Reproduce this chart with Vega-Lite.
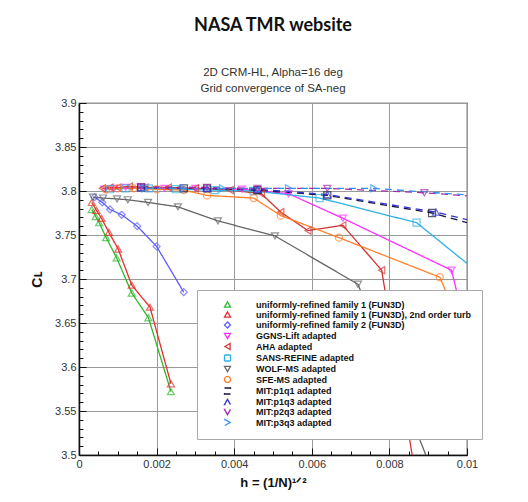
{
  "$schema": "https://vega.github.io/schema/vega-lite/v6.json",
  "width": 388,
  "height": 352,
  "autosize": {"type": "none"},
  "padding": {"left": 79, "top": 103, "right": 61, "bottom": 47},
  "background": "white",
  "title": {
    "text": "NASA TMR website",
    "subtitle": ["2D CRM-HL, Alpha=16 deg", "Grid convergence of SA-neg"],
    "font": "Lato",
    "fontSize": 18,
    "fontWeight": "bold",
    "color": "#111",
    "subtitleFont": "Liberation Sans",
    "subtitleFontSize": 11.5,
    "subtitleColor": "#333",
    "subtitleLineHeight": 16,
    "subtitlePadding": 32,
    "offset": 3,
    "anchor": "middle"
  },
  "config": {
    "view": {"stroke": "#222", "strokeWidth": 1.2},
    "axis": {
      "labelFont": "Liberation Sans",
      "labelFontSize": 11,
      "labelColor": "#333",
      "titleFont": "Liberation Sans",
      "titleFontWeight": "bold",
      "titleColor": "#111",
      "domainColor": "#111",
      "domainWidth": 1.5,
      "tickColor": "#111",
      "gridColor": "#999",
      "gridWidth": 1,
      "labelOverlap": false
    }
  },
  "data": {"values": [
    {"s": "uniformly-refined family 1 (FUN3D)", "x": 0.00033, "y": 3.779},
    {"s": "uniformly-refined family 1 (FUN3D)", "x": 0.00043, "y": 3.771},
    {"s": "uniformly-refined family 1 (FUN3D)", "x": 0.00052, "y": 3.764},
    {"s": "uniformly-refined family 1 (FUN3D)", "x": 0.0007, "y": 3.747},
    {"s": "uniformly-refined family 1 (FUN3D)", "x": 0.00097, "y": 3.724},
    {"s": "uniformly-refined family 1 (FUN3D)", "x": 0.00136, "y": 3.684},
    {"s": "uniformly-refined family 1 (FUN3D)", "x": 0.00179, "y": 3.656},
    {"s": "uniformly-refined family 1 (FUN3D)", "x": 0.00237, "y": 3.572},
    {"s": "uniformly-refined family 1 (FUN3D), 2nd order turb", "x": 0.00033, "y": 3.787},
    {"s": "uniformly-refined family 1 (FUN3D), 2nd order turb", "x": 0.00045, "y": 3.778},
    {"s": "uniformly-refined family 1 (FUN3D), 2nd order turb", "x": 0.00058, "y": 3.769},
    {"s": "uniformly-refined family 1 (FUN3D), 2nd order turb", "x": 0.00077, "y": 3.753},
    {"s": "uniformly-refined family 1 (FUN3D), 2nd order turb", "x": 0.00101, "y": 3.734},
    {"s": "uniformly-refined family 1 (FUN3D), 2nd order turb", "x": 0.00136, "y": 3.693},
    {"s": "uniformly-refined family 1 (FUN3D), 2nd order turb", "x": 0.00183, "y": 3.668},
    {"s": "uniformly-refined family 1 (FUN3D), 2nd order turb", "x": 0.00237, "y": 3.581},
    {"s": "uniformly-refined family 2 (FUN3D)", "x": 0.0004, "y": 3.793},
    {"s": "uniformly-refined family 2 (FUN3D)", "x": 0.0006, "y": 3.787},
    {"s": "uniformly-refined family 2 (FUN3D)", "x": 0.0008, "y": 3.779},
    {"s": "uniformly-refined family 2 (FUN3D)", "x": 0.0011, "y": 3.773},
    {"s": "uniformly-refined family 2 (FUN3D)", "x": 0.0015, "y": 3.76},
    {"s": "uniformly-refined family 2 (FUN3D)", "x": 0.002, "y": 3.737},
    {"s": "uniformly-refined family 2 (FUN3D)", "x": 0.0027, "y": 3.685},
    {"s": "GGNS-Lift adapted", "x": 0.00065, "y": 3.802},
    {"s": "GGNS-Lift adapted", "x": 0.0009, "y": 3.803},
    {"s": "GGNS-Lift adapted", "x": 0.0012, "y": 3.804},
    {"s": "GGNS-Lift adapted", "x": 0.0016, "y": 3.804},
    {"s": "GGNS-Lift adapted", "x": 0.0022, "y": 3.803},
    {"s": "GGNS-Lift adapted", "x": 0.003, "y": 3.803},
    {"s": "GGNS-Lift adapted", "x": 0.0042, "y": 3.802},
    {"s": "GGNS-Lift adapted", "x": 0.0054, "y": 3.797},
    {"s": "GGNS-Lift adapted", "x": 0.0068, "y": 3.769},
    {"s": "GGNS-Lift adapted", "x": 0.0096, "y": 3.71},
    {"s": "GGNS-Lift adapted", "x": 0.0101, "y": 3.62},
    {"s": "AHA adapted", "x": 0.0006, "y": 3.803},
    {"s": "AHA adapted", "x": 0.0008, "y": 3.804},
    {"s": "AHA adapted", "x": 0.001, "y": 3.804},
    {"s": "AHA adapted", "x": 0.0013, "y": 3.805},
    {"s": "AHA adapted", "x": 0.0017, "y": 3.804},
    {"s": "AHA adapted", "x": 0.0023, "y": 3.804},
    {"s": "AHA adapted", "x": 0.003, "y": 3.803},
    {"s": "AHA adapted", "x": 0.0039, "y": 3.801},
    {"s": "AHA adapted", "x": 0.0047, "y": 3.797},
    {"s": "AHA adapted", "x": 0.0052, "y": 3.776},
    {"s": "AHA adapted", "x": 0.0059, "y": 3.755},
    {"s": "AHA adapted", "x": 0.0068, "y": 3.761},
    {"s": "AHA adapted", "x": 0.0078, "y": 3.71},
    {"s": "AHA adapted", "x": 0.0087, "y": 3.47},
    {"s": "SANS-REFINE adapted", "x": 0.0008, "y": 3.802},
    {"s": "SANS-REFINE adapted", "x": 0.0012, "y": 3.803},
    {"s": "SANS-REFINE adapted", "x": 0.0018, "y": 3.803},
    {"s": "SANS-REFINE adapted", "x": 0.0025, "y": 3.802},
    {"s": "SANS-REFINE adapted", "x": 0.0035, "y": 3.801},
    {"s": "SANS-REFINE adapted", "x": 0.0045, "y": 3.8},
    {"s": "SANS-REFINE adapted", "x": 0.0062, "y": 3.792},
    {"s": "SANS-REFINE adapted", "x": 0.0087, "y": 3.764},
    {"s": "SANS-REFINE adapted", "x": 0.0105, "y": 3.7},
    {"s": "WOLF-MS adapted", "x": 0.00036, "y": 3.793},
    {"s": "WOLF-MS adapted", "x": 0.00062, "y": 3.792},
    {"s": "WOLF-MS adapted", "x": 0.00098, "y": 3.791},
    {"s": "WOLF-MS adapted", "x": 0.00126, "y": 3.79},
    {"s": "WOLF-MS adapted", "x": 0.00178, "y": 3.787},
    {"s": "WOLF-MS adapted", "x": 0.00255, "y": 3.782},
    {"s": "WOLF-MS adapted", "x": 0.00358, "y": 3.766},
    {"s": "WOLF-MS adapted", "x": 0.00505, "y": 3.749},
    {"s": "WOLF-MS adapted", "x": 0.00719, "y": 3.694},
    {"s": "WOLF-MS adapted", "x": 0.0093, "y": 3.46},
    {"s": "SFE-MS adapted", "x": 0.0007, "y": 3.802},
    {"s": "SFE-MS adapted", "x": 0.001, "y": 3.803},
    {"s": "SFE-MS adapted", "x": 0.0014, "y": 3.803},
    {"s": "SFE-MS adapted", "x": 0.002, "y": 3.802},
    {"s": "SFE-MS adapted", "x": 0.0027, "y": 3.801},
    {"s": "SFE-MS adapted", "x": 0.0033, "y": 3.795},
    {"s": "SFE-MS adapted", "x": 0.0045, "y": 3.792},
    {"s": "SFE-MS adapted", "x": 0.0052, "y": 3.772},
    {"s": "SFE-MS adapted", "x": 0.0067, "y": 3.747},
    {"s": "SFE-MS adapted", "x": 0.0093, "y": 3.702},
    {"s": "SFE-MS adapted", "x": 0.0099, "y": 3.64},
    {"s": "MIT:p1q1 adapted", "x": 0.0016, "y": 3.804},
    {"s": "MIT:p1q1 adapted", "x": 0.0027, "y": 3.803},
    {"s": "MIT:p1q1 adapted", "x": 0.0033, "y": 3.803},
    {"s": "MIT:p1q1 adapted", "x": 0.0046, "y": 3.801},
    {"s": "MIT:p1q1 adapted", "x": 0.0064, "y": 3.795},
    {"s": "MIT:p1q1 adapted", "x": 0.0091, "y": 3.775},
    {"s": "MIT:p1q1 adapted", "x": 0.0105, "y": 3.758},
    {"s": "MIT:p1q3 adapted", "x": 0.0016, "y": 3.804},
    {"s": "MIT:p1q3 adapted", "x": 0.0033, "y": 3.803},
    {"s": "MIT:p1q3 adapted", "x": 0.0046, "y": 3.802},
    {"s": "MIT:p1q3 adapted", "x": 0.0064, "y": 3.796},
    {"s": "MIT:p1q3 adapted", "x": 0.0092, "y": 3.776},
    {"s": "MIT:p1q3 adapted", "x": 0.0105, "y": 3.762},
    {"s": "MIT:p2q3 adapted", "x": 0.0016, "y": 3.805},
    {"s": "MIT:p2q3 adapted", "x": 0.0033, "y": 3.804},
    {"s": "MIT:p2q3 adapted", "x": 0.0046, "y": 3.803},
    {"s": "MIT:p2q3 adapted", "x": 0.0064, "y": 3.803},
    {"s": "MIT:p2q3 adapted", "x": 0.0089, "y": 3.798},
    {"s": "MIT:p2q3 adapted", "x": 0.0105, "y": 3.793},
    {"s": "MIT:p3q3 adapted", "x": 0.0017, "y": 3.803},
    {"s": "MIT:p3q3 adapted", "x": 0.0027, "y": 3.803},
    {"s": "MIT:p3q3 adapted", "x": 0.0037, "y": 3.803},
    {"s": "MIT:p3q3 adapted", "x": 0.0054, "y": 3.803},
    {"s": "MIT:p3q3 adapted", "x": 0.0076, "y": 3.803},
    {"s": "MIT:p3q3 adapted", "x": 0.0105, "y": 3.794}
  ]},
  "encoding": {
    "x": {
      "field": "x", "type": "quantitative",
      "scale": {"domain": [0, 0.01], "nice": false, "zero": false},
      "axis": {
        "title": "h = (1/N)¹ᐟ²",
        "titleFontSize": 13,
        "titlePadding": 4,
        "values": [0, 0.0005, 0.001, 0.0015, 0.002, 0.0025, 0.003, 0.0035, 0.004, 0.0045, 0.005, 0.0055, 0.006, 0.0065, 0.007, 0.0075, 0.008, 0.0085, 0.009, 0.0095, 0.01],
        "labelExpr": "abs(datum.value*500 - round(datum.value*500)) < 0.001 ? format(datum.value, '~g') : ''",
        "tickSize": {"condition": {"test": "abs(datum.value*500 - round(datum.value*500)) < 0.001", "value": -7}, "value": -4},
        "gridOpacity": {"condition": {"test": "abs(datum.value*500 - round(datum.value*500)) < 0.001", "value": 1}, "value": 0},
        "labelPadding": 10,
        "labelFlush": false
      }
    },
    "y": {
      "field": "y", "type": "quantitative",
      "scale": {"domain": [3.5, 3.9], "nice": false, "zero": false},
      "axis": {
        "title": "Cʟ",
        "titleFontSize": 14,
        "titlePadding": 10,
        "values": [3.5, 3.51, 3.52, 3.53, 3.54, 3.55, 3.56, 3.57, 3.58, 3.59, 3.6, 3.61, 3.62, 3.63, 3.64, 3.65, 3.66, 3.67, 3.68, 3.69, 3.7, 3.71, 3.72, 3.73, 3.74, 3.75, 3.76, 3.77, 3.78, 3.79, 3.8, 3.81, 3.82, 3.83, 3.84, 3.85, 3.86, 3.87, 3.88, 3.89, 3.9],
        "labelExpr": "abs(datum.value*20 - round(datum.value*20)) < 0.001 ? format(datum.value, '~g') : ''",
        "tickSize": {"condition": {"test": "abs(datum.value*20 - round(datum.value*20)) < 0.001", "value": -7}, "value": -4},
        "gridOpacity": {"condition": {"test": "abs(datum.value*20 - round(datum.value*20)) < 0.001", "value": 1}, "value": 0},
        "labelPadding": 10,
        "labelFlush": false
      }
    },
    "color": {
      "field": "s", "type": "nominal", "title": null,
      "scale": {
        "domain": ["uniformly-refined family 1 (FUN3D)", "uniformly-refined family 1 (FUN3D), 2nd order turb", "uniformly-refined family 2 (FUN3D)", "GGNS-Lift adapted", "AHA adapted", "SANS-REFINE adapted", "WOLF-MS adapted", "SFE-MS adapted", "MIT:p1q1 adapted", "MIT:p1q3 adapted", "MIT:p2q3 adapted", "MIT:p3q3 adapted"],
        "range": ["#2eb82e", "#e62e2e", "#5c5cff", "#ff2eff", "#d23232", "#2eb0e6", "#666666", "#ff7f2a", "#14143c", "#3434d0", "#a82aa8", "#2f8ff5"]
      },
      "legend": {
        "orient": "none", "legendX": 118, "legendY": 187,
        "fillColor": "white", "strokeColor": "#aaa", "padding": 10,
        "labelFont": "Liberation Sans", "labelFontSize": 9, "labelFontWeight": "bold", "labelColor": "#111", "labelLimit": 300,
        "symbolSize": 36, "symbolStrokeWidth": 1.3, "symbolOffset": 16, "labelOffset": 24, "rowPadding": -1.5, "symbolLimit": 0,
        "encode": {"symbols": {"update": {
          "fill": {"value": "transparent"},
          "shape": {"signal": "['M-6.7,0L6.7,0M0,-1.45L1.45,1L-1.45,1Z','M-6.7,0L6.7,0M0,-1.45L1.45,1L-1.45,1Z','M-6.7,0L6.7,0M0,-1.5L1.5,0L0,1.5L-1.5,0Z','M-6.7,0L6.7,0M0,1.45L1.45,-1L-1.45,-1Z','M-6.7,0L6.7,0M-1.45,0L1,-1.45L1,1.45Z','M-6.7,0L6.7,0M-1.2,-1.2L1.2,-1.2L1.2,1.2L-1.2,1.2Z','M-6.7,0L6.7,0M0,1.45L1.45,-1L-1.45,-1Z','M-6.7,0L6.7,0M1.35,0A1.35,1.35,0,1,1,-1.35,0A1.35,1.35,0,1,1,1.35,0Z','M-6.7,0L-3.6,0M3.6,0L6.7,0M-1.2,-1.2L1.2,-1.2L1.2,1.2L-1.2,1.2Z','M-6.7,0L-3.6,0M3.6,0L6.7,0M0,-1.45L1.45,1L-1.45,1Z','M-6.7,0L-3.6,0M3.6,0L6.7,0M0,1.45L1.45,-1L-1.45,-1Z','M-6.7,0L-3.6,0M3.6,0L6.7,0M1.45,0L-1,-1.45L-1,1.45Z'][indexof(domain('color'), datum.value)]"}
        }}}
      }
    }
  },
  "layer": [
    {
      "mark": {"type": "line", "clip": true, "strokeWidth": 1.3},
      "encoding": {
        "strokeDash": {
          "field": "s", "type": "nominal", "legend": null,
          "scale": {
            "domain": ["uniformly-refined family 1 (FUN3D)", "uniformly-refined family 1 (FUN3D), 2nd order turb", "uniformly-refined family 2 (FUN3D)", "GGNS-Lift adapted", "AHA adapted", "SANS-REFINE adapted", "WOLF-MS adapted", "SFE-MS adapted", "MIT:p1q1 adapted", "MIT:p1q3 adapted", "MIT:p2q3 adapted", "MIT:p3q3 adapted"],
            "range": [[1, 0], [1, 0], [1, 0], [1, 0], [1, 0], [1, 0], [1, 0], [1, 0], [7, 5], [7, 5], [7, 5], [7, 5]]
          }
        }
      }
    },
    {
      "mark": {"type": "point", "clip": true, "filled": false, "size": 50, "strokeWidth": 1.2},
      "encoding": {
        "shape": {
          "field": "s", "type": "nominal", "legend": null,
          "scale": {
            "domain": ["uniformly-refined family 1 (FUN3D)", "uniformly-refined family 1 (FUN3D), 2nd order turb", "uniformly-refined family 2 (FUN3D)", "GGNS-Lift adapted", "AHA adapted", "SANS-REFINE adapted", "WOLF-MS adapted", "SFE-MS adapted", "MIT:p1q1 adapted", "MIT:p1q3 adapted", "MIT:p2q3 adapted", "MIT:p3q3 adapted"],
            "range": ["triangle-up", "triangle-up", "diamond", "triangle-down", "triangle-left", "square", "triangle-down", "circle", "square", "triangle-up", "triangle-down", "triangle-right"]
          }
        }
      }
    }
  ]
}
